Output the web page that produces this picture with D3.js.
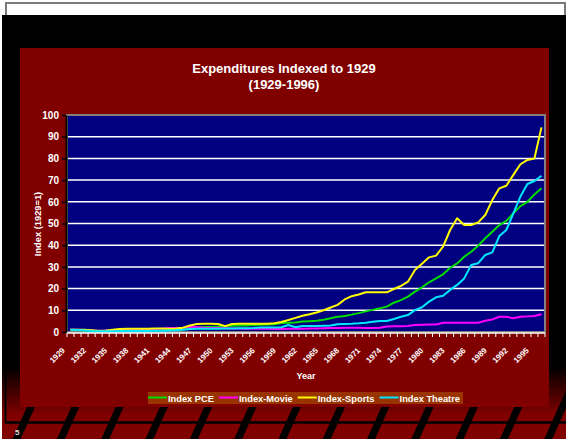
<!DOCTYPE html>
<html>
<head>
<meta charset="utf-8">
<script src="https://cdn.jsdelivr.net/npm/d3@7"></script>
<style>
  body { margin: 0; background: #fff; }
  svg { display: block; font-family: "Liberation Sans", Arial, sans-serif; font-weight: bold; }
</style>
</head>
<body>
<div class="chart"></div>
<script>
// categories 1929..1996
const years = [
  1929, 1930, 1931, 1932, 1933, 1934, 1935, 1936, 1937, 1938,
  1939, 1940, 1941, 1942, 1943, 1944, 1945, 1946, 1947, 1948,
  1949, 1950, 1951, 1952, 1953, 1954, 1955, 1956, 1957, 1958,
  1959, 1960, 1961, 1962, 1963, 1964, 1965, 1966, 1967, 1968,
  1969, 1970, 1971, 1972, 1973, 1974, 1975, 1976, 1977, 1978,
  1979, 1980, 1981, 1982, 1983, 1984, 1985, 1986, 1987, 1988,
  1989, 1990, 1991, 1992, 1993, 1994, 1995, 1996
];

const indexPCE = [
  1.0, 0.9, 0.8, 0.6, 0.6, 0.7, 0.7, 0.8, 0.9, 0.8,
  0.9, 0.9, 1.1, 1.1, 1.3, 1.4, 1.5, 1.9, 2.1, 2.3,
  2.3, 2.5, 2.8, 2.9, 3.0, 3.0, 3.2, 3.3, 3.5, 3.6,
  4.1, 4.3, 4.4, 4.8, 5.0, 5.2, 5.6, 6.3, 7.0, 7.4,
  8.0, 8.7, 9.5, 10.2, 10.9, 11.7, 13.5, 14.7, 16.3, 18.6,
  20.6, 22.9, 24.7, 26.6, 29.6, 31.6, 34.7, 37.0, 39.8, 43.2,
  46.2, 49.3, 51.2, 54.7, 58.0, 60.0, 63.4, 66.2
];

const indexMovie = [
  1.0, 1.0, 0.9, 0.7, 0.6, 0.7, 0.8, 1.0, 1.1, 1.1,
  1.1, 1.2, 1.3, 1.5, 1.8, 1.9, 2.0, 2.3, 2.2, 2.0,
  1.9, 1.8, 1.7, 1.6, 1.6, 1.5, 1.5, 1.5, 1.5, 1.4,
  1.4, 1.5, 1.5, 1.5, 1.6, 1.6, 1.7, 1.8, 1.9, 2.0,
  2.0, 2.0, 1.9, 1.9, 2.0, 2.5, 2.6, 2.7, 2.8, 3.2,
  3.3, 3.4, 3.5, 4.3, 4.3, 4.3, 4.3, 4.3, 4.3, 5.2,
  5.8, 7.0, 7.0, 6.3, 7.0, 7.2, 7.4, 8.2
];

const indexSports = [
  1.0, 1.0, 1.0, 0.8, 0.5, 0.6, 1.0, 1.4, 1.5, 1.5,
  1.5, 1.5, 1.6, 1.6, 1.5, 1.6, 2.0, 3.0, 3.7, 3.8,
  3.8, 3.7, 2.7, 3.7, 3.8, 3.8, 3.8, 3.8, 3.8, 4.0,
  4.6, 5.5, 6.5, 7.5, 8.2, 9.0, 10.0, 11.3, 12.5, 15.0,
  16.5, 17.3, 18.3, 18.3, 18.3, 18.3, 19.8, 21.2, 23.2, 28.6,
  31.5, 34.4, 35.2, 39.3, 47.0, 52.4, 49.3, 49.3, 50.5, 53.9,
  60.8, 66.2, 67.4, 72.4, 77.3, 79.3, 80.0, 94.3
];

const indexTheatre = [
  1.0, 0.9, 0.7, 0.5, 0.4, 0.4, 0.4, 0.5, 0.5, 0.5,
  0.5, 0.5, 0.6, 0.6, 0.7, 0.8, 1.0, 1.4, 1.5, 1.5,
  1.5, 1.5, 1.6, 1.6, 1.7, 1.7, 1.8, 2.1, 2.1, 2.1,
  2.2, 3.2, 2.2, 2.8, 2.8, 2.8, 2.9, 3.0, 3.6, 3.7,
  3.8, 4.0, 4.3, 4.7, 5.1, 5.1, 6.0, 7.0, 7.8, 10.1,
  11.4, 14.0, 16.0, 16.7, 19.4, 21.7, 24.7, 30.9, 31.7, 35.5,
  36.7, 44.2, 47.0, 54.7, 62.4, 68.2, 69.6, 72.0
];

const seriesNames = ["Index PCE", "Index-Movie", "Index-Sports", "Index Theatre"];
const seriesColors = ["#00dd00", "#ff00ff", "#ffff00", "#00e8ff"];
const yTicks = [0, 10, 20, 30, 40, 50, 60, 70, 80, 90, 100];

const series = [indexPCE, indexMovie, indexSports, indexTheatre].map((vals, i) => ({
  name: seriesNames[i],
  color: seriesColors[i],
  values: vals.map((v, j) => ({ year: years[j], value: v }))
}));

const width = 566;
const height = 439;

const svg = d3
  .select(".chart")
  .append("svg")
  .attr("width", width)
  .attr("height", height);

// ---- slide frame ----
const defs = svg.append("defs");
const fade = defs.append("linearGradient")
  .attr("id", "fade")
  .attr("x1", 0).attr("y1", 0).attr("x2", 0).attr("y2", 1);
fade.append("stop").attr("offset", "0.88").attr("stop-color", "#000").attr("stop-opacity", 1);
fade.append("stop").attr("offset", "1").attr("stop-color", "#000").attr("stop-opacity", 0);

svg.append("rect").attr("width", width).attr("height", height).attr("fill", "#fff");
svg.append("rect")
  .attr("x", 6).attr("y", 3).attr("width", 559).attr("height", 24)
  .attr("fill", "#fff").attr("stroke", "#7a7a7a").attr("stroke-width", 2);
svg.append("rect")
  .attr("x", 2).attr("y", 15).attr("width", 564).attr("height", 424)
  .attr("fill", "#800000");
svg.append("rect")
  .attr("x", 2).attr("y", 15).attr("width", 564).attr("height", 400)
  .attr("fill", "url(#fade)");

// diagonal stripes along the bottom
const stripes = d3.range(0, 14).map((k) => 27 + k * 44.3);
svg.selectAll("polygon.stripe")
  .data(stripes)
  .enter()
  .append("polygon")
  .attr("class", "stripe")
  .attr("fill", "#000")
  .attr("points", (x0) => {
    const s = 0.45;
    return [
      [x0 + (407 - 385) * s, 385],
      [x0 + 8 + (407 - 385) * s, 385],
      [x0 + 8 - (439 - 407) * s, 439],
      [x0 - (439 - 407) * s, 439]
    ].join(" ");
  });

svg.append("line")
  .attr("x1", 5).attr("x2", 566).attr("y1", 422.5).attr("y2", 422.5)
  .attr("stroke", "#000").attr("stroke-width", 2.5);
svg.append("line")
  .attr("x1", 5.5).attr("x2", 5.5).attr("y1", 15).attr("y2", 423)
  .attr("stroke", "#000").attr("stroke-width", 2);

svg.append("text")
  .attr("x", 15).attr("y", 435)
  .attr("font-size", 8).attr("fill", "#ddd")
  .text("5");

// red chart panel
svg.append("rect")
  .attr("x", 20).attr("y", 48).attr("width", 529).attr("height", 359)
  .attr("fill", "#800000");

// ---- title ----
svg.append("text")
  .attr("x", 284).attr("y", 73)
  .attr("text-anchor", "middle").attr("font-size", 13).attr("fill", "#fff")
  .text("Expenditures Indexed to 1929");
svg.append("text")
  .attr("x", 284).attr("y", 89)
  .attr("text-anchor", "middle").attr("font-size", 13).attr("fill", "#fff")
  .text("(1929-1996)");

// ---- scales ----
const x = d3.scaleBand().domain(years).range([67, 545]);
const cx = (d) => x(d) + x.bandwidth() / 2;
const y = d3.scaleLinear().domain([0, 100]).range([332, 115]);

// plot area
svg.append("rect")
  .attr("x", 67).attr("y", 115).attr("width", 478).attr("height", 217)
  .attr("fill", "#000080");

svg.selectAll("line.grid")
  .data(yTicks.filter((t) => t > 0 && t < 100))
  .enter()
  .append("line")
  .attr("class", "grid")
  .attr("x1", 67).attr("x2", 545)
  .attr("y1", (d) => y(d)).attr("y2", (d) => y(d))
  .attr("stroke", "#fff").attr("stroke-width", 1.5);

svg.append("rect")
  .attr("x", 67).attr("y", 115).attr("width", 478).attr("height", 217)
  .attr("fill", "none").attr("stroke", "#808080").attr("stroke-width", 2);

// ---- series lines ----
const line = d3.line()
  .x((d) => cx(d.year))
  .y((d) => y(d.value));

svg.selectAll("path.series")
  .data(series)
  .enter()
  .append("path")
  .attr("class", "series")
  .attr("d", (d) => line(d.values))
  .attr("fill", "none")
  .attr("stroke", (d) => d.color)
  .attr("stroke-width", 2)
  .attr("stroke-linejoin", "round");

// ---- y axis ----
const yAxis = svg.append("g")
  .attr("transform", "translate(66,0)")
  .call(d3.axisLeft(y).tickValues(yTicks).tickSize(4).tickSizeOuter(0).tickPadding(3));
yAxis.select(".domain").attr("stroke", "#000").attr("stroke-width", 2);
yAxis.selectAll(".tick line").attr("stroke", "#000").attr("stroke-width", 1.5);
yAxis.selectAll("text")
  .attr("fill", "#fff").attr("font-size", 10).attr("font-weight", "bold")
  .attr("font-family", "Liberation Sans, Arial, sans-serif");

svg.append("text")
  .attr("transform", "translate(41,224) rotate(-90)")
  .attr("text-anchor", "middle").attr("font-size", 9.3).attr("fill", "#fff")
  .text("Index (1929=1)");

// ---- x axis ----
svg.append("line")
  .attr("x1", 67).attr("x2", 545).attr("y1", 333).attr("y2", 333)
  .attr("stroke", "#fff").attr("stroke-width", 1.5);

svg.selectAll("line.xtick")
  .data(years.map((d) => x(d)).concat([x.range()[1]]))
  .enter()
  .append("line")
  .attr("class", "xtick")
  .attr("x1", (d) => d).attr("x2", (d) => d)
  .attr("y1", 333).attr("y2", 337)
  .attr("stroke", "#fff").attr("stroke-width", 1);

svg.selectAll("text.xlabel")
  .data(years.filter((d, i) => i % 3 === 0))
  .enter()
  .append("text")
  .attr("class", "xlabel")
  .attr("transform", (d) => `translate(${cx(d) - 5},351) rotate(-45)`)
  .attr("text-anchor", "end")
  .attr("font-size", 8)
  .attr("fill", "#fff")
  .text((d) => d);

svg.append("text")
  .attr("x", 306).attr("y", 379)
  .attr("text-anchor", "middle").attr("font-size", 9).attr("fill", "#fff")
  .text("Year");

// ---- legend ----
const legend = svg.append("g");
legend.append("rect")
  .attr("x", 148).attr("y", 392).attr("width", 315).attr("height", 12)
  .attr("fill", "#993300");

let lx = 148;
series.forEach((s) => {
  legend.append("line")
    .attr("x1", lx).attr("x2", lx + 19)
    .attr("y1", 397.5).attr("y2", 397.5)
    .attr("stroke", s.color).attr("stroke-width", 2);
  const t = legend.append("text")
    .attr("x", lx + 20).attr("y", 401.5)
    .attr("font-size", 9.3).attr("fill", "#fff")
    .text(s.name);
  lx += 20 + t.node().getComputedTextLength() + 5;
});
</script>
</body>
</html>
